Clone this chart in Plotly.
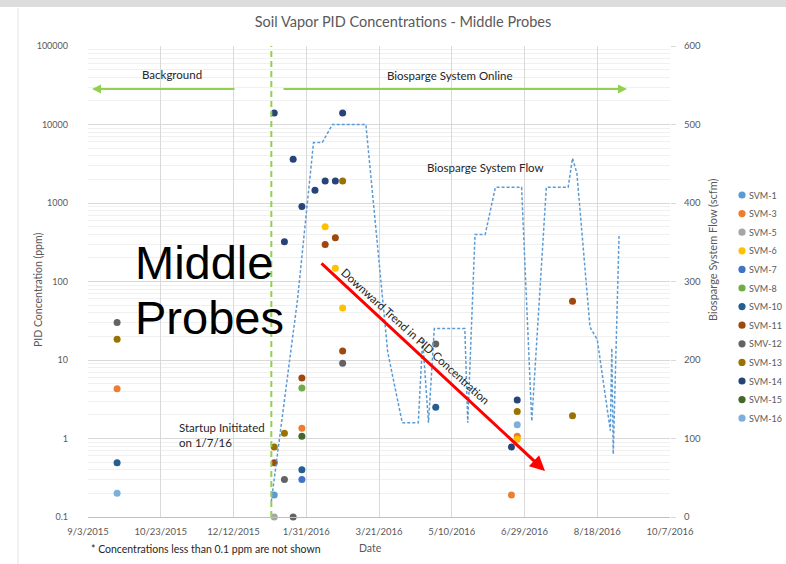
import plotly.graph_objects as go

# ---------------- data ----------------
x_tickvals = ["2015-09-03", "2015-10-23", "2015-12-12", "2016-01-31", "2016-03-21",
              "2016-05-10", "2016-06-29", "2016-08-18", "2016-10-07"]
x_ticktext = ["9/3/2015", "10/23/2015", "12/12/2015", "1/31/2016", "3/21/2016",
              "5/10/2016", "6/29/2016", "8/18/2016", "10/7/2016"]
y_tickvals = [0.1, 1, 10, 100, 1000, 10000, 100000]
y_ticktext = ["0.1", "1", "10", "100", "1000", "10000", "100000"]

svm1_dates = ["2016-01-09"]
svm1_ppm = [0.19]
svm3_dates = ["2015-09-23", "2016-01-28", "2016-06-20", "2016-06-24"]
svm3_ppm = [4.3, 1.35, 0.19, 1.07]
svm5_dates = ["2016-01-09"]
svm5_ppm = [0.1]
svm6_dates = ["2016-02-13", "2016-02-20", "2016-02-25", "2016-06-24"]
svm6_ppm = [500, 148, 46, 0.98]
svm7_dates = ["2016-01-28"]
svm7_ppm = [0.30]
svm8_dates = ["2016-01-28"]
svm8_ppm = [4.4]
svm10_dates = ["2015-09-23", "2016-01-28", "2016-04-29"]
svm10_ppm = [0.49, 0.40, 2.5]
svm11_dates = ["2016-01-09", "2016-01-28", "2016-02-13", "2016-02-20", "2016-02-25", "2016-08-01"]
svm11_ppm = [0.49, 5.9, 295, 360, 13, 56]
smv12_dates = ["2015-09-23", "2016-01-16", "2016-01-22", "2016-02-25", "2016-04-29"]
smv12_ppm = [30, 0.30, 0.1, 9.1, 16]
svm13_dates = ["2015-09-23", "2016-01-09", "2016-01-16", "2016-02-25", "2016-06-24", "2016-08-01"]
svm13_ppm = [18.4, 0.78, 1.17, 1900, 2.2, 1.95]
svm14_dates = ["2016-01-09", "2016-01-16", "2016-01-22", "2016-01-28", "2016-02-06",
               "2016-02-13", "2016-02-20", "2016-02-25", "2016-06-20", "2016-06-24"]
svm14_ppm = [14000, 320, 3600, 900, 1450, 1900, 1900, 14000, 0.78, 3.1]
svm15_dates = ["2016-01-28"]
svm15_ppm = [1.07]
svm16_dates = ["2015-09-23", "2016-06-24"]
svm16_ppm = [0.2, 1.5]

flow_dates = ["2016-01-07", "2016-01-25", "2016-02-05", "2016-02-11", "2016-02-18", "2016-03-12",
              "2016-03-27", "2016-04-06", "2016-04-17", "2016-04-20", "2016-04-24", "2016-04-28",
              "2016-05-19", "2016-05-21", "2016-05-26", "2016-06-02", "2016-06-09", "2016-06-27",
              "2016-07-04", "2016-07-14", "2016-07-29", "2016-08-01", "2016-08-04", "2016-08-13",
              "2016-08-18", "2016-08-27", "2016-08-28", "2016-08-29", "2016-09-02"]
flow_scfm = [20, 277, 477, 477, 500, 500,
             210, 120, 120, 226, 120, 240,
             240, 120, 360, 360, 420, 420,
             122, 420, 420, 457, 438, 242,
             226, 110, 215, 80, 360]

series = [
    ("SVM-1", svm1_dates, svm1_ppm, "#5B9BD5"),
    ("SVM-3", svm3_dates, svm3_ppm, "#ED7D31"),
    ("SVM-5", svm5_dates, svm5_ppm, "#A5A5A5"),
    ("SVM-6", svm6_dates, svm6_ppm, "#FFC000"),
    ("SVM-7", svm7_dates, svm7_ppm, "#4472C4"),
    ("SVM-8", svm8_dates, svm8_ppm, "#70AD47"),
    ("SVM-10", svm10_dates, svm10_ppm, "#255E91"),
    ("SVM-11", svm11_dates, svm11_ppm, "#9E480E"),
    ("SMV-12", smv12_dates, smv12_ppm, "#636363"),
    ("SVM-13", svm13_dates, svm13_ppm, "#997300"),
    ("SVM-14", svm14_dates, svm14_ppm, "#264478"),
    ("SVM-15", svm15_dates, svm15_ppm, "#43682B"),
    ("SVM-16", svm16_dates, svm16_ppm, "#7CAFDD"),
]

# ---------------- layout geometry (pixels) ----------------
W, H = 786, 564
PL, PR, PT, PB = 88, 670, 46, 517


def px(x):
    return (x - PL) / (PR - PL)


def py(y):
    return (PB - y) / (PB - PT)


FONT = "Lato, 'Open Sans', sans-serif"
GREY = "#595959"
DARK = "#262626"

fig = go.Figure()

fig.add_trace(go.Scatter(
    x=flow_dates, y=flow_scfm, yaxis="y2", mode="lines", showlegend=False,
    line=dict(color="#5B9BD5", width=1.5, dash="3px,2px"), name="Biosparge System Flow"))

for name, d, v, c in series:
    fig.add_trace(go.Scatter(
        x=d, y=v, mode="markers", name=name, cliponaxis=False, showlegend=False,
        marker=dict(color=c, size=7, line=dict(width=0))))

minor_vals = [m * 10 ** e for e in range(-1, 5) for m in range(2, 10)]

annotations = [
    dict(text="Background", x=px(172), y=py(74)),
    dict(text="Biosparge System Online", x=px(449), y=py(75)),
    dict(text="Biosparge System Flow", x=px(485), y=py(167)),
    dict(text="Startup Inititated<br>on 1/7/16", x=px(177), y=py(435), xanchor="left", align="left"),
    dict(text="Downward Trend in PID Concentration", x=px(416), y=py(336), textangle=42.3),
    dict(text="* Concentrations less than 0.1 ppm are not shown", x=px(89), y=py(549), xanchor="left",
         font=dict(size=10.5, color=DARK, family=FONT)),
    dict(text="Date", x=px(370), y=py(548), font=dict(size=10.5, color=GREY, family=FONT)),
    dict(text="PID Concentration (ppm)", x=px(38), y=py(290), textangle=-90,
         font=dict(size=10.5, color=GREY, family=FONT)),
    dict(text="Biosparge System Flow (scfm)", x=px(712), y=py(250), textangle=-90,
         font=dict(size=11, color=GREY, family=FONT)),
    dict(text="Middle", x=px(133), y=py(262), xanchor="left",
         font=dict(size=47, color="#000000", family="Liberation Sans, Arial, sans-serif")),
    dict(text="Probes", x=px(133), y=py(317), xanchor="left",
         font=dict(size=47, color="#000000", family="Liberation Sans, Arial, sans-serif")),
]
for a in annotations:
    a.setdefault("xref", "paper")
    a.setdefault("yref", "paper")
    a.setdefault("showarrow", False)
    a.setdefault("xanchor", "center")
    a.setdefault("yanchor", "middle")
    a.setdefault("font", dict(size=11.5, color=DARK, family=FONT))

arrows = [
    # head (x, y), tail (x, y), color, width
    ((92, 89), (236, 89), "#92D050", 1.8),
    ((627, 89), (282, 89), "#92D050", 1.8),
    ((545, 471), (320, 262), "#FF0000", 3),
]
for (hx, hy), (tx, ty), col, w in arrows:
    annotations.append(dict(
        xref="paper", yref="paper", x=px(hx), y=py(hy), ax=tx - hx, ay=ty - hy,
        text="", showarrow=True, arrowhead=2, arrowsize=1,
        arrowwidth=w, arrowcolor=col, standoff=0))

shapes = [
    dict(type="line", xref="x", yref="paper", x0="2016-01-07", x1="2016-01-07", y0=0, y1=1,
         line=dict(color="#92D050", width=2, dash="6px,4px"), layer="above"),
    dict(type="rect", xref="paper", yref="paper", x0=px(0), x1=px(W), y0=py(7), y1=py(0),
         fillcolor="#DCDCDC", line=dict(width=0), layer="below"),
    dict(type="line", xref="paper", yref="paper", x0=px(18), x1=px(18), y0=py(H), y1=py(8),
         line=dict(color="#E3E3E3", width=1), layer="below"),
]

# legend (symbol + label) drawn beside the right axis
LEG_X, LEG_Y0, LEG_DY, R = 742, 195, 18.6, 3.6
for i, (name, _d, _v, c) in enumerate(series):
    yy = LEG_Y0 + i * LEG_DY
    shapes.append(dict(type="circle", xref="paper", yref="paper",
                       x0=px(LEG_X - R), x1=px(LEG_X + R), y0=py(yy + R), y1=py(yy - R),
                       fillcolor=c, line=dict(width=0)))
    annotations.append(dict(text=name, xref="paper", yref="paper", x=px(LEG_X + 4.5), y=py(yy),
                            xanchor="left", yanchor="middle", showarrow=False,
                            font=dict(size=9, color=GREY, family=FONT)))

fig.update_layout(
    width=W, height=H,
    margin=dict(l=PL, r=W - PR, t=PT, b=H - PB, autoexpand=False),
    paper_bgcolor="white", plot_bgcolor="white",
    font=dict(family=FONT, size=9, color=GREY),
    title=dict(text="Soil Vapor PID Concentrations - Middle Probes",
               x=403 / W, y=1 - 22 / H, xanchor="center", yanchor="middle",
               xref="container", yref="container",
               font=dict(size=14.5, color=GREY, family=FONT)),
    xaxis=dict(type="date", range=["2015-09-03", "2016-10-07"],
               tickmode="array", tickvals=x_tickvals, ticktext=x_ticktext,
               showgrid=True, gridcolor="#D9D9D9", gridwidth=1,
               showline=True, linecolor="#BFBFBF", zeroline=False,
               ticks="", ticklabelstandoff=6,
               tickfont=dict(size=9.5, color=GREY, family=FONT)),
    yaxis=dict(type="log", range=[-1, 5],
               tickmode="array", tickvals=y_tickvals, ticktext=y_ticktext,
               showgrid=True, gridcolor="#D9D9D9", zeroline=False,
               showline=False, ticks="", ticklabelstandoff=19,
               minor=dict(tickmode="array", tickvals=minor_vals, showgrid=True,
                          gridcolor="#F0F0F0", ticks=""),
               tickfont=dict(size=9, color=GREY, family=FONT)),
    yaxis2=dict(overlaying="y", side="right", range=[0, 600], dtick=100,
                showgrid=False, zeroline=False, showline=False,
                ticks="outside", ticklen=5, tickcolor="#D9D9D9",
                ticklabelstandoff=6,
                tickfont=dict(size=9.5, color=GREY, family=FONT)),
    annotations=annotations,
    shapes=shapes,
    showlegend=False,
)

fig.write_html("out.html", config={"displayModeBar": False},
               post_script="document.body.style.margin='0px';")
